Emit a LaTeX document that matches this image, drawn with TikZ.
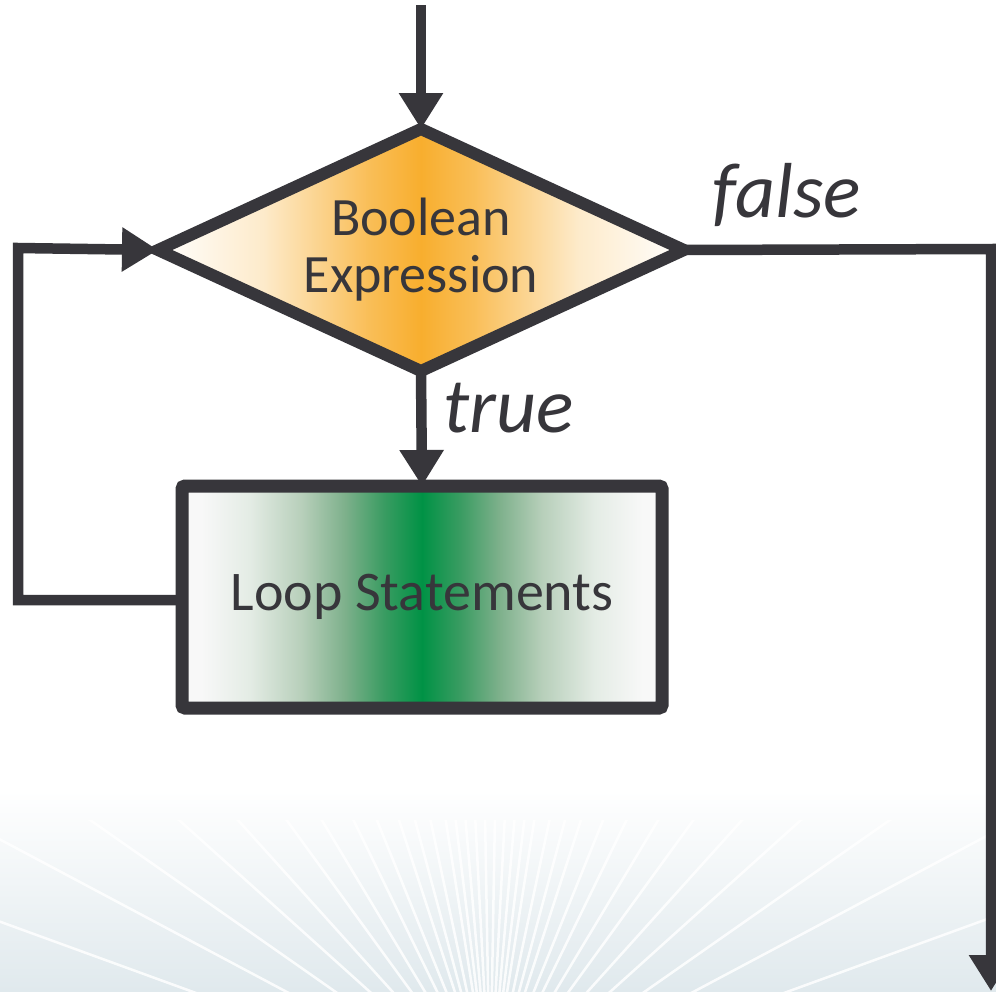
\documentclass[tikz,border=0pt]{standalone}
\usepackage{fontspec}
\setmainfont{Carlito}
\usetikzlibrary{shapes.geometric,arrows.meta}
\definecolor{ink}{HTML}{37363B}
\definecolor{orng}{HTML}{F8AE2E}
\definecolor{bgblue}{HTML}{E0E9ED}
\definecolor{ga}{HTML}{F8F8F8}
\definecolor{gb}{HTML}{E4ECE5}
\definecolor{gc}{HTML}{B7CFBA}
\definecolor{gd}{HTML}{7DB08B}
\definecolor{ge}{HTML}{3A9C62}
\definecolor{gf}{HTML}{009245}
\pgfdeclarehorizontalshading{greenband}{100bp}{
  color(0bp)=(ga); color(25bp)=(ga); color(27bp)=(ga);
  color(32bp)=(gb); color(37.5bp)=(gc); color(42bp)=(gd); color(46bp)=(ge);
  color(50bp)=(gf); color(54bp)=(ge); color(58bp)=(gd);
  color(62.5bp)=(gc); color(68bp)=(gb); color(73bp)=(ga); color(75bp)=(ga); color(100bp)=(ga)}
\pgfdeclarehorizontalshading{orangeband}{100bp}{
  color(0bp)=(white); color(25bp)=(white);
  color(35bp)=(orng!25!white); color(45bp)=(orng!80!white);
  color(50bp)=(orng); color(55bp)=(orng!80!white);
  color(65bp)=(orng!25!white); color(75bp)=(white); color(100bp)=(white)}
\tikzset{
  flow/.style={draw=ink,line width=10.5pt,-{Triangle[width=42pt,length=36pt]}},
  decision/.style={diamond,draw=ink,line width=12pt,shape aspect=2.2,minimum width=526pt,minimum height=242pt,
    inner sep=0pt,outer sep=0pt,shading=orangeband,
    align=center,font=\fontsize{54}{57}\selectfont,text=ink},
  process/.style={rectangle,draw=ink,line width=13pt,rounded corners=3pt,minimum width=480pt,
    minimum height=222pt,inner sep=0pt,outer sep=0pt,shading=greenband,
    font=\fontsize{56}{60}\selectfont,text=ink},
  lbl/.style={font=\itshape\fontsize{78}{80}\selectfont,text=ink,inner sep=0pt}
}
\begin{document}
\begin{tikzpicture}[x=1pt,y=-1pt]
\useasboundingbox (0,0) rectangle (996,991);
% background
\fill[white] (0,0) rectangle (996,991);
\shade[top color=white,bottom color=bgblue] (0,790) rectangle (996,991);
\begin{scope}
\clip (0,820) rectangle (996,991);
\foreach \a in {-70,-62,-55,-48,-42,-36,-31,-26,-22,-18,-15,-12,-9,-7,-5,-3,-1,1,3,5,7,9,12,15,18,22,26,31,36,42,48,55,62,70}{
  \draw[white,line width=2.5pt,opacity=0.85] (490,1100) -- ++({\a-90}:1000);
}
\end{scope}
% nodes
\node[decision] (d) at (421,250) {Boolean\\Expression};
\node[process] (p) at (422,597) {Loop Statements};
\node[lbl,anchor=base west] (t) at (443,432) {true};
\node[lbl,anchor=base west] (f) at (712,217) {false};
\coordinate (s) at (421,5);
\coordinate (lp) at (18,600);
\coordinate (lq) at (18,248);
\coordinate (fr) at (991,249);
\coordinate (fe) at (991,991);
% connectors
\draw[flow] (s) -- (d.north);
\draw[flow] (d.south) -- (p.north);
\draw[flow,line join=miter] (p.west |- lp) -- (lp) -- (lq) -- (d.west);
\draw[flow,line join=miter] (d.east) -- (fr) -- (fe);
\end{tikzpicture}
\end{document}
